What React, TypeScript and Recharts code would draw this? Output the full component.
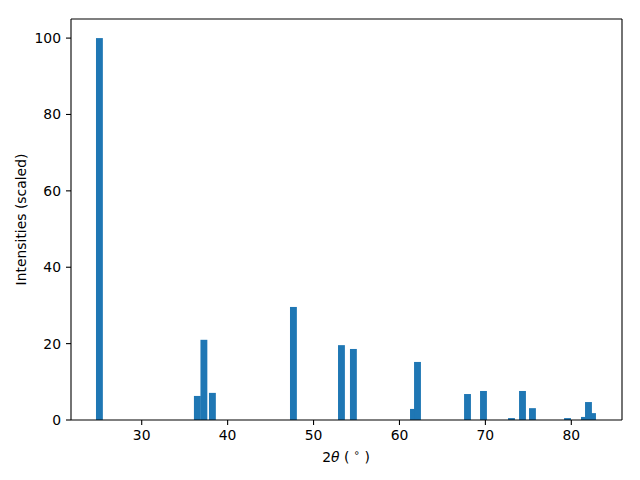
import { BarChart, Bar, XAxis, YAxis, ReferenceLine } from "recharts"

// peak positions (2θ, degrees) and scaled intensities, in plotting order
const twoTheta = [25.08, 36.48, 37.24, 38.23, 47.66, 53.25, 54.64, 61.63, 62.1, 67.92, 69.78, 73.04, 74.32, 75.48, 79.56, 81.53, 82.47, 82.0]
const intensity = [100, 6.3, 21.0, 7.1, 29.6, 19.6, 18.6, 2.9, 15.2, 6.8, 7.6, 0.5, 7.6, 3.1, 0.5, 0.8, 1.8, 4.7]
const xTicks = [30, 40, 50, 60, 70, 80]
const yTicks = [0, 20, 40, 60, 80, 100]

const X_MIN = 21.77
const X_MAX = 85.9
const Y_MAX = 105

const data = twoTheta.map((x, i) => ({ x, y: intensity[i] }))

const font = "'DejaVu Sans', sans-serif"
const tick = { fill: "#000", fontSize: 13.9, fontFamily: font }
const axisLine = { stroke: "#000", strokeWidth: 1.1 }

const W = 640
const H = 480
const margin = { top: 19, right: 18, bottom: 0, left: 0 }
const Y_AXIS_W = 71
const X_AXIS_H = 60
const plotW = W - margin.left - margin.right - Y_AXIS_W
const barW = (0.8 * plotW) / (X_MAX - X_MIN)

function PeakBar(p: any) {
  if (p.height == null || p.width == null) return null
  const cx = p.x + p.width / 2
  return <rect x={cx - barW / 2} y={p.y} width={barW} height={p.height} fill="#1f77b4" />
}

export default function App() {
  return (
    <div style={{ position: "absolute", left: 0, top: 0, width: W, height: H, background: "#fff" }}>
      <BarChart width={W} height={H} data={data} margin={margin}>
        <XAxis
          dataKey="x"
          type="number"
          domain={[X_MIN, X_MAX]}
          ticks={xTicks}
          tick={tick}
          tickSize={5}
          tickMargin={5}
          tickLine={axisLine}
          axisLine={axisLine}
          height={X_AXIS_H}
          allowDataOverflow
        />
        <YAxis
          domain={[0, Y_MAX]}
          ticks={yTicks}
          tick={tick}
          tickSize={5}
          tickMargin={5}
          tickLine={axisLine}
          axisLine={axisLine}
          width={Y_AXIS_W}
          allowDataOverflow
        />
        <ReferenceLine y={Y_MAX} stroke="#000" strokeWidth={1.1} />
        <ReferenceLine x={X_MAX} stroke="#000" strokeWidth={1.1} />
        <Bar dataKey="y" shape={PeakBar} barSize={2} isAnimationActive={false} />
      </BarChart>
      <svg width={W} height={H} style={{ position: "absolute", left: 0, top: 0, pointerEvents: "none" }}>
        <text x={346} y={462} textAnchor="middle" fontFamily={font} fontSize={13.9} fill="#000" xmlSpace="preserve">
          2<tspan fontStyle="italic">θ</tspan> ( <tspan dy={-6} fontSize={10}>∘</tspan><tspan dy={6}> )</tspan>
        </text>
        <text
          x={21}
          y={219.5}
          transform="rotate(-90 21 219.5)"
          textAnchor="middle"
          dominantBaseline="central"
          fontFamily={font}
          fontSize={13.9}
          fill="#000"
        >
          Intensities (scaled)
        </text>
      </svg>
    </div>
  )
}
